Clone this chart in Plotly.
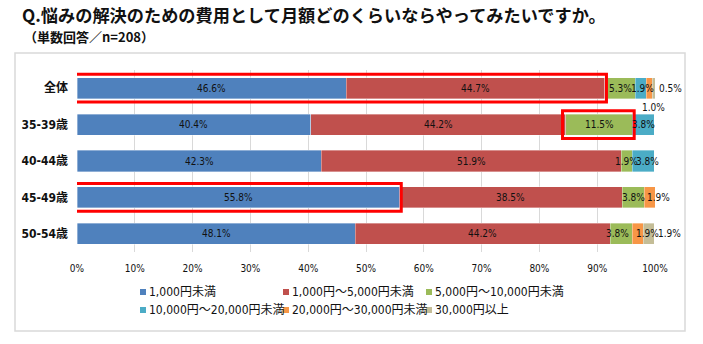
import plotly.graph_objects as go

# ---------------- data ----------------
categories = ["全体", "35-39歳", "40-44歳", "45-49歳", "50-54歳"]
series_names = [
    "1,000円未満",
    "1,000円～5,000円未満",
    "5,000円～10,000円未満",
    "10,000円～20,000円未満",
    "20,000円～30,000円未満",
    "30,000円以上",
]
v_lt1000 = [46.6, 40.4, 42.3, 55.8, 48.1]
v_1000_5000 = [44.7, 44.2, 51.9, 38.5, 44.2]
v_5000_10000 = [5.3, 11.5, 1.9, 3.8, 3.8]
v_10000_20000 = [1.9, 3.8, 3.8, 0.0, 0.0]
v_20000_30000 = [1.0, 0.0, 0.0, 1.9, 1.9]
v_30000_plus = [0.5, 0.0, 0.0, 0.0, 1.9]
series_values = [v_lt1000, v_1000_5000, v_5000_10000, v_10000_20000, v_20000_30000, v_30000_plus]
x_ticks = [0, 10, 20, 30, 40, 50, 60, 70, 80, 90, 100]

title_text = "Q.悩みの解決のための費用として月額どのくらいならやってみたいですか。"
subtitle_text = "（単数回答／n=208）"

# highlighted (red boxed) segments: (category index, first series, last series)
highlights = [(0, 0, 1), (1, 2, 2), (3, 0, 0)]

# ---------------- style ----------------
colors = ["#4F81BD", "#C0504D", "#9BBB59", "#4BACC6", "#F79646", "#C4BD97"]
W, H = 703, 344
ML, MR, MT, MB = 77, 48, 70, 92
PW, PH = W - ML - MR, H - MT - MB
NUM_FONT = "DejaVu Sans Condensed, Liberation Sans Narrow, Noto Sans CJK JP, sans-serif"
JP_FONT = "Noto Sans CJK JP, sans-serif"

# pixel nudges for crowded labels: (cat idx, series idx) -> (xshift, yshift)
label_nudge = {(0, 3): (2, 0), (0, 4): (4, -19), (0, 5): (17, 0), (2, 3): (4, 0),
               (3, 4): (9, 0), (4, 2): (-4, 0), (4, 4): (10, 0), (4, 5): (21, 0)}

# legend grid (pixel positions of marker left edges / row centres)
legend_cols_px = [140, 283, 426]
legend_rows_px = [292, 310]
legend_marker_px = 6


def px_x(px):
    return (px - ML) / PW


def px_y(py):
    return (H - MB - py) / PH


fig = go.Figure()
for s, (name, vals) in enumerate(zip(series_names, series_values)):
    fig.add_trace(go.Bar(
        y=categories, x=vals, orientation="h", name=name,
        marker=dict(color=colors[s], line=dict(color="rgba(255,255,255,0.6)", width=0.6)),
        showlegend=False, hoverinfo="x+y+name",
    ))

# data labels
annotations = []
for c, cat in enumerate(categories):
    start = 0.0
    for s, vals in enumerate(series_values):
        v = vals[c]
        if v > 0:
            dx, dy = label_nudge.get((c, s), (0, 0))
            annotations.append(dict(
                x=start + v / 2, y=cat, xref="x", yref="y", text=f"{v:.1f}%",
                showarrow=False, xshift=dx, yshift=dy,
                font=dict(family=NUM_FONT, size=10, color="#111111"),
            ))
        start += v

# title / subtitle
annotations.append(dict(
    x=px_x(20), y=px_y(15), xref="paper", yref="paper", xanchor="left", yanchor="middle",
    text=f"<b>{title_text}</b>", showarrow=False,
    font=dict(family=JP_FONT, size=17.2, color="#111111"),
))
annotations.append(dict(
    x=px_x(22), y=px_y(37), xref="paper", yref="paper", xanchor="left", yanchor="middle",
    text=f"<b>{subtitle_text}</b>", showarrow=False,
    font=dict(family=JP_FONT, size=13, color="#111111"),
))

shapes = []
# outer chart frame
shapes.append(dict(type="rect", xref="paper", yref="paper",
                   x0=px_x(15), x1=px_x(685), y0=px_y(331), y1=px_y(53),
                   line=dict(color="#D9D9D9", width=1.5), layer="below"))
# red highlight boxes
for c, s0, s1 in highlights:
    x0 = sum(series_values[k][c] for k in range(s0))
    x1 = sum(series_values[k][c] for k in range(s1 + 1))
    shapes.append(dict(type="rect", xref="x", yref="y",
                       x0=x0 - 0.6, x1=x1 + 0.3, y0=c - 0.38, y1=c + 0.38,
                       line=dict(color="#FF0000", width=3)))

# legend (square markers + text), 3 entries per row
for s, name in enumerate(series_names):
    row, col = divmod(s, 3)
    mx = legend_cols_px[col]
    my = legend_rows_px[row]
    shapes.append(dict(type="rect", xref="paper", yref="paper",
                       x0=px_x(mx), x1=px_x(mx + legend_marker_px),
                       y0=px_y(my + legend_marker_px / 2), y1=px_y(my - legend_marker_px / 2),
                       fillcolor=colors[s], line=dict(width=0)))
    annotations.append(dict(
        x=px_x(mx + legend_marker_px + 1), y=px_y(my), xref="paper", yref="paper",
        xanchor="left", yanchor="middle", text=name, showarrow=False,
        font=dict(family=NUM_FONT, size=12, color="#111111"),
    ))

fig.update_layout(
    width=W, height=H, autosize=False,
    margin=dict(l=ML, r=MR, t=MT, b=MB),
    paper_bgcolor="white", plot_bgcolor="white",
    barmode="stack", bargap=0.42, showlegend=False,
    xaxis=dict(range=[0, 100], tickvals=x_ticks, ticktext=[f"{t}%" for t in x_ticks],
               showgrid=True, gridcolor="#D9D9D9", gridwidth=1, zeroline=False,
               showline=False, ticks="", ticklabelstandoff=9,
               tickfont=dict(family=NUM_FONT, size=10, color="#111111"), fixedrange=True),
    yaxis=dict(type="category", categoryorder="array", categoryarray=categories,
               range=[len(categories) - 0.5, -0.5], showgrid=False, zeroline=False,
               showline=False, ticks="", ticklabelstandoff=8,
               tickfont=dict(family=NUM_FONT, size=12, color="#111111", weight="bold"),
               fixedrange=True),
    annotations=annotations, shapes=shapes,
)

fig.write_html("out.html")
